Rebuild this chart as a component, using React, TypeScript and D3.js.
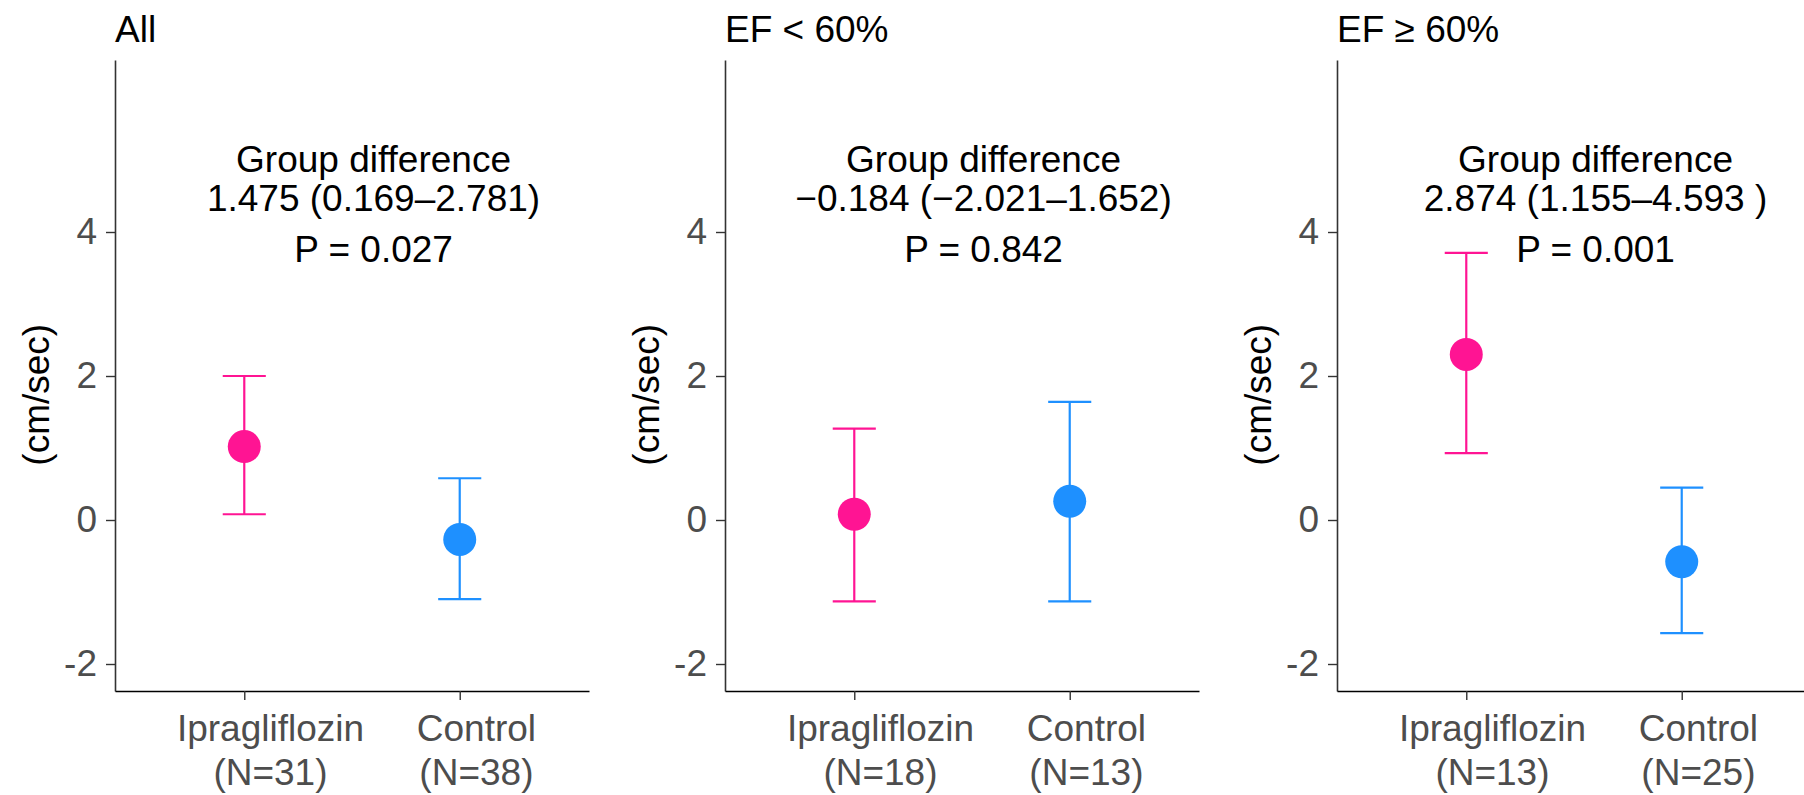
import { useEffect, useRef } from 'react';
import * as d3 from 'd3';

// panel data
const groups = ['Ipragliflozin', 'Control'];
const groupColors = ['#FF1493', '#1E90FF'];
const panelTitles = ['All', 'EF < 60%', 'EF ≥ 60%'];
const sampleSizes = [[31, 38], [18, 13], [13, 25]];
const means = [[1.02, -0.27], [0.08, 0.26], [2.30, -0.58]];
const lowerCI = [[0.08, -1.10], [-1.13, -1.13], [0.93, -1.57]];
const upperCI = [[2.00, 0.58], [1.27, 1.64], [3.71, 0.45]];
const diffLabels = ['1.475 (0.169–2.781)', '−0.184 (−2.021–1.652)', '2.874 (1.155–4.593 )'];
const pLabels = ['P = 0.027', 'P = 0.842', 'P = 0.001'];
const yTicks = [-2, 0, 2, 4];
const yDomain = [-2.375, 6.389];
const yTitle = '(cm/sec)';

const FONT = '"Liberation Sans", Arial, Helvetica, sans-serif';

export default function App() {
  const ref = useRef<SVGSVGElement>(null);

  useEffect(() => {
    const svg = d3.select(ref.current);
    svg.selectAll('*').remove();

    const W = 1804, H = 795;
    const top = 60, bottom = 691;
    const panelLeft = [115, 725, 1337];
    const panelW = 474;

    const y = d3.scaleLinear().domain(yDomain).range([bottom, top]);

    panelTitles.forEach((title, p) => {
      const x0 = panelLeft[p];
      const x = d3.scalePoint<string>()
        .domain(groups)
        .range([x0, x0 + panelW])
        .padding(0.6);
      const step = x.step();
      const g = svg.append('g').attr('font-family', FONT);

      // title
      g.append('text')
        .attr('x', x0)
        .attr('y', 42)
        .attr('font-size', 37)
        .attr('fill', '#000')
        .text(title);

      // y axis
      const yAxis = g.append('g')
        .attr('transform', `translate(${x0},0)`)
        .call(d3.axisLeft(y).tickValues(yTicks).tickFormat(d => String(d))
          .tickSize(9).tickPadding(9).tickSizeOuter(0));
      yAxis.select('.domain').attr('stroke', '#333').attr('stroke-width', 1.6);
      yAxis.selectAll('.tick line').attr('stroke', '#333').attr('stroke-width', 1.4);
      yAxis.selectAll('.tick text')
        .attr('font-size', 37)
        .attr('font-family', FONT)
        .attr('fill', '#4D4D4D');

      // x axis
      const xAxis = g.append('g')
        .attr('transform', `translate(0,${bottom})`)
        .call(d3.axisBottom(x).tickSize(9).tickSizeOuter(0).tickFormat(() => ''));
      xAxis.select('.domain').attr('stroke', '#000').attr('stroke-width', 1.6);
      xAxis.selectAll('.tick line').attr('stroke', '#333').attr('stroke-width', 1.4);

      // x tick labels: two lines, block hjust ~0.36
      groups.forEach((grp, i) => {
        const t = g.append('text')
          .attr('font-size', 37)
          .attr('fill', '#4D4D4D')
          .attr('text-anchor', 'middle');
        const l1 = t.append('tspan').attr('y', bottom + 50).text(grp);
        const l2 = t.append('tspan').attr('y', bottom + 94).text(`(N=${sampleSizes[p][i]})`);
        const w = Math.max(
          (l1.node() as SVGTSpanElement).getComputedTextLength(),
          (l2.node() as SVGTSpanElement).getComputedTextLength()
        );
        const cx = (x(grp) as number) - 0.36 * w + w / 2;
        l1.attr('x', cx);
        l2.attr('x', cx);
      });

      // y title
      g.append('text')
        .attr('transform', `translate(${x0 - 66},${y(1.74)}) rotate(-90)`)
        .attr('text-anchor', 'middle')
        .attr('font-size', 37)
        .attr('fill', '#000')
        .text(yTitle);

      // error bars + points
      groups.forEach((grp, i) => {
        const cx = x(grp) as number;
        const col = groupColors[i];
        const half = step * 0.1;
        g.append('line')
          .attr('x1', cx).attr('x2', cx)
          .attr('y1', y(lowerCI[p][i])).attr('y2', y(upperCI[p][i]))
          .attr('stroke', col).attr('stroke-width', 2.2);
        [lowerCI[p][i], upperCI[p][i]].forEach(v => {
          g.append('line')
            .attr('x1', cx - half).attr('x2', cx + half)
            .attr('y1', y(v)).attr('y2', y(v))
            .attr('stroke', col).attr('stroke-width', 2.2);
        });
        g.append('circle')
          .attr('cx', cx)
          .attr('cy', y(means[p][i]))
          .attr('r', 16.5)
          .attr('fill', col);
      });

      // annotations
      const ax = (x(groups[0]) as number) + 0.6 * step;
      const ann = g.append('g').attr('text-anchor', 'middle').attr('font-size', 37).attr('fill', '#000');
      ann.append('text').attr('x', ax).attr('y', y(4.83)).text('Group difference');
      ann.append('text').attr('x', ax).attr('y', y(4.29)).text(diffLabels[p]);
      ann.append('text').attr('x', ax).attr('y', y(3.58)).text(pLabels[p]);
    });

    svg.attr('width', W).attr('height', H);
  }, []);

  return (
    <svg
      ref={ref}
      width={1804}
      height={795}
      style={{ position: 'absolute', left: 0, top: 0, background: '#fff' }}
    />
  );
}
